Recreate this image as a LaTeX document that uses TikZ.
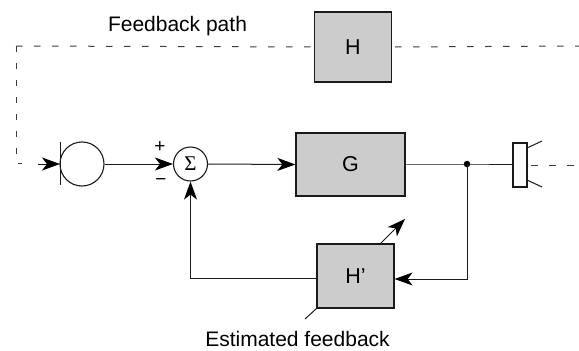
\documentclass[tikz,border=0pt]{standalone}
\usepackage{fontspec}
\setmainfont{Liberation Sans}
\newfontfamily\sigmafont{Liberation Serif}
\usetikzlibrary{arrows.meta}
\definecolor{boxgray}{HTML}{CCCCCC}
\definecolor{inkdark}{HTML}{1A1A1A}
\tikzset{
  blockbox/.style={draw=inkdark,fill=boxgray,line width=1.2pt,minimum width=#1,inner sep=0pt,font=\fontsize{21.5}{24}\selectfont},
  conn/.style={draw=inkdark,line width=1pt},
  arrowconn/.style={conn,-{Stealth[length=18pt,width=13pt,inset=5pt,color=black]}},
  thin conn/.style={draw=inkdark,line width=1pt},
  feedback/.style={draw=inkdark!85,line width=1pt,dash pattern=on 6.5pt off 11.5pt},
  feedback v/.style={draw=inkdark!85,line width=1pt,dash pattern=on 6pt off 11pt},
  caption/.style={font=\fontsize{21}{24}\selectfont,text=black,inner sep=0pt},
  signmark/.style={font=\fontsize{19}{20}\selectfont,text=black,inner sep=0pt},
}
\begin{document}
\begin{tikzpicture}[x=1pt,y=-1pt]
\useasboundingbox (0,0) rectangle (579,351);
\node[blockbox=77pt,minimum height=70pt] (H) at (353,47) {H};
\node[blockbox=109pt,minimum height=63pt] (G) at (350.5,164.5) {G};
\node[blockbox=77pt,minimum height=64pt] (Hp) at (355.5,276) {H’};
\node[draw=inkdark,line width=1.1pt,circle,minimum size=34pt,inner sep=0pt,font=\sigmafont\fontsize{21}{22}\selectfont] (sum) at (190.5,164) {Σ};
\node[draw=inkdark,line width=1.1pt,circle,minimum size=44pt,inner sep=0pt] (mic) at (82,164) {};
\node[draw=inkdark,fill=white,line width=1.2pt,minimum width=14pt,minimum height=44pt,inner sep=0pt] (spk) at (520,165) {};
\node[circle,fill=black,minimum size=6.5pt,inner sep=0pt] (dot) at (467,164) {};
\node[caption] (fblabel) at (177.5,26) {Feedback path};
\node[caption] (estlabel) at (297.5,339) {Estimated feedback};
\node[signmark] (plus) at (160,147) {+};
\node[signmark] (minus) at (161,182) {−};
% free ends
\coordinate (micTop) at (60,142);
\coordinate (micBot) at (60,185);
\coordinate (tl) at (16,46);
\coordinate (tr) at (579,46);
\coordinate (bl) at (16,163.5);
\coordinate (blEnd) at (22,163.5);
\coordinate (inStart) at (38,164);
\coordinate (micIn) at (60,164);
\coordinate (coneTopA) at (527,148);
\coordinate (coneTopB) at (542,141);
\coordinate (coneBotA) at (527,180);
\coordinate (coneBotB) at (542,187);
\coordinate (outA) at (531,165);
\coordinate (outB) at (579,165);
\coordinate (adjTip) at (405,219);
\coordinate (adjBase) at (380,244);
\coordinate (adjTail) at (305,319);
\coordinate (fbCorner) at (190.5,278);
\coordinate (dotDown) at (467,279);
% feedback path
\draw[feedback] (tl) -- (H.west);
\draw[feedback v] (tl) -- (bl) -- (blEnd);
\draw[feedback] (H.east) ++(3,0) -- (tr);
\draw[feedback] (outA) -- (outB);
% forward path
\draw[thin conn] (micTop) -- (micBot);
\draw[arrowconn] (inStart) -- (micIn);
\draw[arrowconn] (mic.east) -- (sum.west);
\draw[arrowconn] (sum.east) -- (G.west);
\draw[conn] (G.east |- dot) -- (dot.center) -- (spk.west |- dot);
\draw[thin conn] (coneTopA) -- (coneTopB);
\draw[thin conn] (coneBotA) -- (coneBotB);
% estimated feedback
\draw[arrowconn] (dot.center) -- (dotDown) -- (Hp.east |- dotDown);
\draw[arrowconn] (Hp.west |- fbCorner) -- (fbCorner) -- (sum.south);
\draw[arrowconn] (adjBase) -- (adjTip);
\draw[thin conn] (Hp.south west) -- (adjTail);
\end{tikzpicture}
\end{document}
